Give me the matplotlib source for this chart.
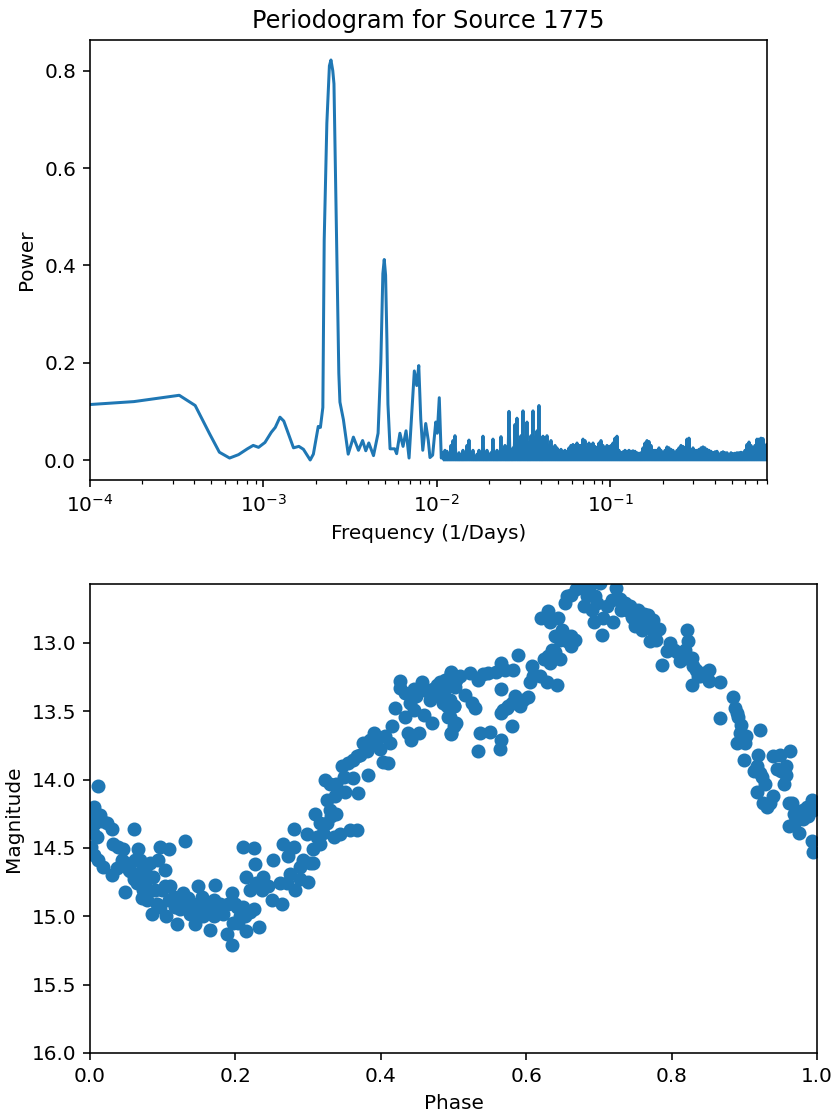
import numpy as np
import matplotlib
matplotlib.use("Agg")
import matplotlib.pyplot as plt

# --- periodogram, low frequency part ---
low_freq = [
    1.00e-4, 1.79e-4, 3.27e-4, 4.04e-4, 4.89e-4, 5.57e-4, 6.38e-4, 7.18e-4,
    8.08e-4, 8.73e-4, 9.37e-4, 1.02e-3, 1.11e-3, 1.17e-3, 1.245e-3, 1.31e-3,
    1.49e-3, 1.60e-3, 1.70e-3, 1.86e-3, 1.94e-3, 2.07e-3, 2.13e-3, 2.20e-3,
    2.24e-3, 2.32e-3, 2.40e-3, 2.45e-3, 2.51e-3, 2.55e-3, 2.64e-3, 2.72e-3,
    2.76e-3, 2.89e-3, 3.08e-3, 3.30e-3, 3.53e-3, 3.73e-3, 3.89e-3, 4.05e-3,
    4.31e-3, 4.58e-3, 4.75e-3, 4.88e-3, 4.97e-3, 5.06e-3, 5.15e-3, 5.22e-3,
    5.37e-3, 5.71e-3, 5.86e-3, 6.12e-3, 6.38e-3, 6.64e-3, 6.91e-3, 7.41e-3,
    7.65e-3, 7.86e-3, 8.07e-3, 8.29e-3, 8.62e-3, 8.92e-3, 9.12e-3, 9.45e-3,
    9.85e-3, 1.005e-2, 1.032e-2, 1.06e-2,
]
low_power = [
    0.114, 0.120, 0.133, 0.112, 0.054, 0.016, 0.004, 0.011,
    0.023, 0.030, 0.026, 0.036, 0.057, 0.067, 0.088, 0.080,
    0.025, 0.028, 0.022, 0.000, 0.012, 0.069, 0.067, 0.108,
    0.452, 0.692, 0.810, 0.822, 0.800, 0.773, 0.452, 0.178,
    0.119, 0.083, 0.012, 0.047, 0.020, 0.040, 0.019, 0.035,
    0.009, 0.055, 0.200, 0.383, 0.412, 0.380, 0.246, 0.115,
    0.023, 0.023, 0.013, 0.055, 0.028, 0.060, 0.004, 0.183,
    0.153, 0.194, 0.085, 0.020, 0.075, 0.040, 0.005, 0.010,
    0.078, 0.055, 0.128, 0.004,
]

# --- periodogram, dense high frequency part: spike tops, evenly spaced in log f ---
band_f_lo = 0.01084
band_f_hi = 0.8
band_floor = 0.0
band_peaks = [
    0.015, 0.020, 0.018, 0.008, 0.030, 0.040, 0.050, 0.005, 0.015, 0.004,
    0.020, 0.010, 0.030, 0.041, 0.012, 0.020, 0.004, 0.012, 0.020, 0.010,
    0.049, 0.004, 0.020, 0.012, 0.015, 0.043, 0.004, 0.020, 0.006, 0.048,
    0.015, 0.030, 0.003, 0.100, 0.005, 0.025, 0.073, 0.086, 0.010, 0.050,
    0.101, 0.020, 0.078, 0.005, 0.050, 0.101, 0.015, 0.060, 0.112, 0.005,
    0.049, 0.045, 0.050, 0.030, 0.040, 0.025, 0.030, 0.025, 0.020, 0.022,
    0.018, 0.020, 0.017, 0.025, 0.030, 0.032, 0.030, 0.035, 0.030, 0.030,
    0.043, 0.040, 0.025, 0.035, 0.030, 0.035, 0.028, 0.025, 0.035, 0.040,
    0.030, 0.025, 0.030, 0.028, 0.030, 0.035, 0.045, 0.049, 0.020, 0.015,
    0.017, 0.020, 0.018, 0.020, 0.018, 0.019, 0.018, 0.015, 0.014, 0.015,
    0.025, 0.035, 0.040, 0.038, 0.030, 0.020, 0.020, 0.020, 0.025, 0.020,
    0.015, 0.020, 0.027, 0.025, 0.022, 0.020, 0.015, 0.020, 0.025, 0.030,
    0.028, 0.025, 0.043, 0.045, 0.020, 0.025, 0.020, 0.020, 0.022, 0.025,
    0.027, 0.025, 0.022, 0.020, 0.018, 0.015, 0.017, 0.018, 0.012, 0.015,
    0.017, 0.015, 0.015, 0.012, 0.015, 0.013, 0.014, 0.015, 0.015, 0.016,
    0.015, 0.020, 0.032, 0.037, 0.030, 0.022, 0.030, 0.043, 0.043, 0.045,
    0.044, 0.030, 0.032,
]

# --- folded light curve ---
phase = [
    0.005, 0.005, 0.011, 0.014, 0.007, 0.004, 0.009, 0.002, 0.005, 0.011,
    0.018, 0.023, 0.030, 0.016, 0.032, 0.039, 0.046, 0.030, 0.037, 0.044,
    0.050, 0.060, 0.055, 0.048, 0.060, 0.066, 0.069, 0.071, 0.064, 0.073,
    0.078, 0.071, 0.085, 0.080, 0.087, 0.096, 0.108, 0.094, 0.103, 0.099,
    0.092, 0.096, 0.105, 0.110, 0.115, 0.119, 0.124, 0.131, 0.128, 0.133,
    0.138, 0.144, 0.149, 0.147, 0.154, 0.158, 0.165, 0.170, 0.172, 0.170,
    0.179, 0.183, 0.188, 0.195, 0.195, 0.197, 0.202, 0.206, 0.211, 0.215,
    0.211, 0.225, 0.215, 0.227, 0.220, 0.225, 0.232, 0.229, 0.238, 0.252,
    0.250, 0.264, 0.261, 0.266, 0.280, 0.273, 0.280, 0.275, 0.282, 0.289,
    0.298, 0.303, 0.300, 0.307, 0.309, 0.307, 0.316, 0.316, 0.323, 0.326,
    0.330, 0.332, 0.335, 0.339, 0.344, 0.346, 0.351, 0.362, 0.358, 0.367,
    0.369, 0.362, 0.371, 0.381, 0.383, 0.385, 0.390, 0.399, 0.403, 0.410,
    0.413, 0.415, 0.420, 0.426, 0.426, 0.433, 0.438, 0.442, 0.445, 0.449,
    0.452, 0.456, 0.459, 0.463, 0.470, 0.477, 0.481, 0.488, 0.491, 0.497,
    0.500, 0.497, 0.493, 0.502, 0.504,
    0.481, 0.488, 0.486, 0.491, 0.497, 0.500, 0.495, 0.497, 0.500, 0.509,
    0.516, 0.523, 0.525, 0.530, 0.534, 0.536, 0.534, 0.541, 0.550, 0.559,
    0.566, 0.566, 0.571, 0.573, 0.566, 0.580, 0.582, 0.580, 0.589, 0.591,
    0.566, 0.564, 0.596, 0.603, 0.605, 0.608, 0.619, 0.630, 0.633, 0.628,
    0.640, 0.642, 0.646, 0.649, 0.656, 0.653, 0.662, 0.667, 0.621, 0.630,
    0.633, 0.644, 0.662, 0.656, 0.669, 0.678, 0.688, 0.702, 0.680, 0.695,
    0.697, 0.693, 0.706, 0.704, 0.718, 0.720, 0.724, 0.731, 0.736, 0.743,
    0.747, 0.750, 0.754, 0.759, 0.762, 0.768, 0.775, 0.770, 0.782, 0.787,
    0.793, 0.798, 0.807, 0.812, 0.818, 0.821, 0.823, 0.828, 0.830, 0.828,
    0.837, 0.844, 0.851, 0.851, 0.867, 0.867, 0.885, 0.887, 0.892, 0.890,
    0.896, 0.899, 0.903, 0.922, 0.919, 0.913, 0.917, 0.922, 0.929, 0.926,
    0.931, 0.940, 0.949, 0.963, 0.951, 0.954, 0.958, 0.961, 0.968, 0.961,
    0.975, 0.977, 0.981, 0.986, 0.993, 0.995, 0.993, 0.995,
    0.053, 0.062, 0.078, 0.083, 0.076, 0.089, 0.103, 0.108, 0.117, 0.126,
    0.135, 0.142, 0.156, 0.163, 0.174, 0.190, 0.199, 0.204, 0.213, 0.220,
    0.236, 0.245, 0.271, 0.289, 0.293, 0.312, 0.321, 0.326, 0.330, 0.337,
    0.339, 0.349, 0.355, 0.367, 0.376, 0.394, 0.406, 0.433, 0.440, 0.445,
    0.468, 0.472, 0.486, 0.495,
    0.504, 0.548, 0.568, 0.575, 0.585, 0.610, 0.624, 0.635, 0.640, 0.646,
    0.661, 0.683, 0.690, 0.711, 0.729, 0.738, 0.745, 0.757, 0.764, 0.775,
    0.779, 0.803, 0.814, 0.821, 0.834, 0.839, 0.848, 0.890, 0.894, 0.901,
    0.917, 0.924, 0.935, 0.940, 0.945, 0.958, 0.965, 0.970, 0.981, 0.988,
]
magnitude = [
    14.20, 14.25, 14.05, 14.26, 14.32, 14.39, 14.42, 14.49, 14.55, 14.59,
    14.64, 14.32, 14.36, 14.30, 14.47, 14.49, 14.51, 14.70, 14.65, 14.59,
    14.61, 14.36, 14.67, 14.82, 14.73, 14.51, 14.59, 14.66, 14.76, 14.81,
    14.88, 14.87, 14.98, 14.81, 14.71, 14.49, 14.51, 14.59, 14.66, 14.81,
    14.91, 14.93, 15.00, 14.78, 14.86, 15.06, 14.95, 14.45, 14.83, 14.91,
    14.98, 15.06, 14.78, 14.91, 14.86, 14.93, 15.10, 15.00, 14.77, 14.88,
    14.91, 14.98, 15.13, 15.21, 14.83, 15.05, 14.93, 15.00, 14.93, 15.11,
    14.49, 14.50, 14.71, 14.62, 14.81, 14.95, 15.08, 14.76, 14.71, 14.59,
    14.88, 14.91, 14.76, 14.47, 14.49, 14.56, 14.36, 14.69, 14.81, 14.64,
    14.40, 14.61, 14.75, 14.61, 14.25, 14.51, 14.47, 14.32, 14.00, 14.15,
    14.03, 14.27, 14.42, 14.25, 14.40, 13.90, 14.09, 13.99, 14.37, 14.37,
    14.10, 13.86, 13.82, 13.79, 13.97, 13.71, 13.66, 13.78, 13.87, 13.88,
    13.73, 13.61, 13.48, 13.28, 13.33, 13.54, 13.66, 13.71, 13.34, 13.39,
    13.66, 13.29, 13.53, 13.35, 13.59, 13.31, 13.39, 13.34, 13.29, 13.21,
    13.46, 13.67, 13.54, 13.32, 13.59,
    13.29, 13.27, 13.39, 13.46, 13.22, 13.46, 13.54, 13.66, 13.61, 13.24,
    13.38, 13.22, 13.44, 13.48, 13.27, 13.66, 13.79, 13.23, 13.65, 13.21,
    13.15, 13.34, 13.20, 13.48, 13.51, 13.44, 13.20, 13.61, 13.09, 13.46,
    13.71, 13.78, 13.42, 13.40, 13.29, 13.17, 13.24, 13.10, 13.15, 13.29,
    13.07, 13.31, 13.12, 12.91, 12.99, 12.71, 13.02, 12.98, 12.82, 12.77,
    12.85, 12.82, 12.65, 12.66, 12.61, 12.57, 12.58, 12.56, 12.73, 12.66,
    12.71, 12.85, 12.82, 12.94, 12.69, 12.85, 12.60, 12.76, 12.71, 12.73,
    12.82, 12.88, 12.76, 12.91, 12.79, 12.80, 12.83, 12.99, 12.90, 13.16,
    13.06, 13.00, 13.07, 13.13, 13.05, 12.91, 12.99, 13.11, 13.17, 13.31,
    13.24, 13.22, 13.20, 13.28, 13.29, 13.55, 13.40, 13.48, 13.54, 13.73,
    13.60, 13.86, 13.68, 13.64, 13.82, 13.94, 14.09, 13.95, 14.03, 14.17,
    14.20, 13.83, 13.82, 13.79, 13.94, 14.03, 13.90, 14.17, 14.25, 14.34,
    14.39, 14.28, 14.22, 14.20, 14.15, 14.22, 14.45, 14.53,
    14.66, 14.59, 14.73, 14.61, 14.66, 14.81, 14.78, 14.88, 14.93, 14.91,
    14.87, 14.98, 15.00, 14.91, 14.95, 14.91, 14.91, 15.05, 15.00, 14.97,
    14.81, 14.78, 14.76, 14.73, 14.59, 14.42, 14.39, 14.32, 14.22, 14.12,
    14.03, 13.98, 13.88, 13.83, 13.73, 13.73, 13.68, 13.37, 13.44, 13.49,
    13.42, 13.34, 13.44, 13.42,
    13.27, 13.22, 13.49, 13.46, 13.39, 13.24, 13.12, 13.05, 12.95, 12.98,
    12.95, 12.66, 12.76, 12.73, 12.68, 12.76, 12.81, 12.83, 12.87, 12.91,
    12.98, 13.05, 13.10, 13.11, 13.20, 13.24, 13.24, 13.51, 13.66, 13.73,
    13.90, 13.98, 14.17, 14.12, 13.92, 13.97, 14.17, 14.31, 14.29, 14.27,
]

source_id = 1775

# dense part: each spike top followed by a drop to the floor
band_power = []
for i, p in enumerate(band_peaks):
    band_power.append(p)
    if i < len(band_peaks) - 1:
        band_power.append(band_floor)
band_freq = np.geomspace(band_f_lo, band_f_hi, len(band_power))

freq = np.concatenate([low_freq, band_freq])
power = np.concatenate([low_power, band_power])

W, H, DPI = 838, 1117, 144
fig = plt.figure(figsize=(W / DPI, H / DPI), dpi=DPI)

ax1 = fig.add_axes([90 / W, 1 - 480 / H, 677 / W, 440 / H])
ax1.plot(freq, power)
ax1.set_xscale('log')
ax1.set_xlim(freq[0], freq[-1])
ax1.set_xlabel('Frequency (1/Days)')
ax1.set_ylabel('Power')
ax1.set_title(f'Periodogram for Source {source_id}')

ax2 = fig.add_axes([90 / W, 1 - 1053 / H, 727 / W, 469 / H])
ax2.scatter(phase, magnitude)
ax2.set_xlim(0, 1)
ax2.set_ylim(16.0, 12.57)
ax2.set_xlabel('Phase')
ax2.set_ylabel('Magnitude')

fig.savefig('out.png', dpi=DPI)
